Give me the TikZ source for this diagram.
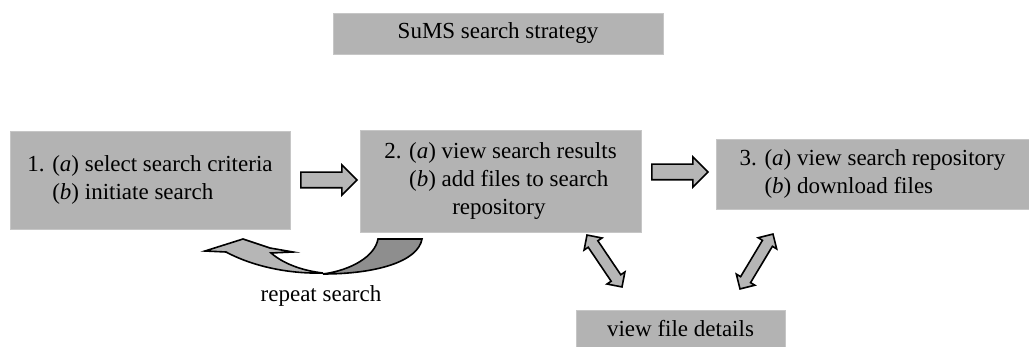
\documentclass[tikz,border=0pt]{standalone}
\usepackage{fontspec}
\setmainfont{Liberation Serif}
\usepackage{tikz}
\usetikzlibrary{shapes.arrows, positioning, calc}
\usepackage{xcolor}
\definecolor{boxgray}{RGB}{179,179,179}
\definecolor{boxedge}{RGB}{198,198,198}
\definecolor{arrowgray}{RGB}{182,182,182}
\definecolor{backgray}{RGB}{142,142,142}

\begin{document}
\begin{tikzpicture}[x=0.5pt, y=-0.5pt,
    every node/.style={font=\fontsize{11.5}{14}\selectfont},
    stage/.style={rectangle, fill=boxgray, draw=boxedge, line width=0.4pt, inner sep=0pt, align=left},
    fwd/.style={single arrow, draw=black, fill=arrowgray, line width=0.8pt, minimum height=28pt, minimum width=14.5pt, single arrow head extend=3.6pt, inner xsep=0pt, inner ysep=3.5pt},
    twoway/.style={double arrow, draw=black, fill=arrowgray, line width=0.8pt, minimum width=10pt, double arrow head extend=2.5pt, inner xsep=0pt, inner ysep=2.5pt}]

    \useasboundingbox (0,0) rectangle (1029,347);

    % Boxes
    \node[stage, minimum width=165pt, minimum height=20.5pt] (title) at (498,33.5) {SuMS search strategy};
    \node[stage, minimum width=140pt, minimum height=49pt] (s1) at (150,180)
        {1. (\textit{a}) select search criteria\\\phantom{1. }(\textit{b}) initiate search};
    \node[stage, minimum width=140.5pt, minimum height=51pt] (s2) at (500.5,181)
        {2. (\textit{a}) view search results\\\phantom{2. }(\textit{b}) add files to search\\\hspace*{34pt}repository};
    \node[stage, minimum width=156.5pt, minimum height=35pt] (s3) at (872.5,174)
        {3. (\textit{a}) view search repository\\\phantom{3. }(\textit{b}) download files};
    \node[stage, minimum width=104.5pt, minimum height=18.5pt] (details) at (680.5,328.5) {view file details};

    % Block arrows
    \node[fwd] (a12) at (325,180) {};
    \node[fwd] (a23) at (676,172) {};
    \node[twoway, minimum height=31.3pt, rotate=-56] (a2d) at (604.5,261) {};
    \node[twoway, minimum height=32pt, rotate=59] (a3d) at (756.5,261.5) {};

    % Curved arrow back to step 1
    \draw[fill=backgray, line width=0.8pt] (378,239) -- (422,239)
        .. controls (418,262) and (375,274) .. (323,274)
        .. controls (352,270) and (375,256) .. cycle;
    \draw[fill=arrowgray, line width=0.8pt] (205,251) -- (243,239) -- (270,248) -- (293,252) -- (271,253)
        .. controls (285,265) and (305,271) .. (323,273)
        .. controls (288,274) and (252,266) .. (226,252) -- cycle;
    \node (repeat) at (321,296) {repeat search};
\end{tikzpicture}
\end{document}
